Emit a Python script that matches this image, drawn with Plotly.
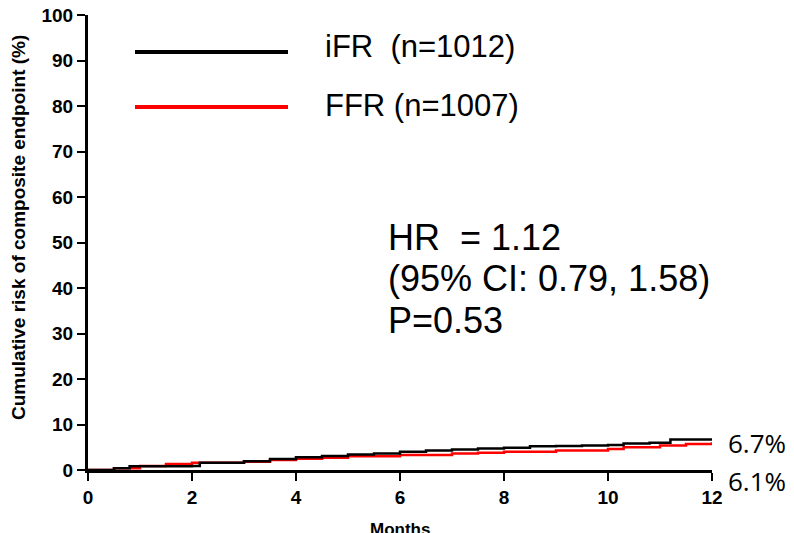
import plotly.graph_objects as go

# Data
ifr_months = [0, 0.5, 0.8, 2.0, 2.15, 3.0, 3.5, 4.0, 4.5, 5.0, 5.5, 6.0, 6.5, 7.0, 7.5, 8.0, 8.5, 9.0, 9.5, 10.0, 10.3, 10.8, 11.2, 12]
ifr_values = [0, 0.4, 0.8, 0.9, 1.6, 1.9, 2.4, 2.8, 3.1, 3.4, 3.6, 4.0, 4.3, 4.5, 4.7, 4.9, 5.2, 5.3, 5.4, 5.5, 5.8, 6.0, 6.7, 6.7]
ffr_months = [0, 0.5, 1.0, 1.5, 2.0, 3.0, 3.5, 4.0, 4.5, 5.0, 6.0, 7.0, 7.5, 8.0, 9.0, 10.0, 10.3, 11.0, 11.5, 12]
ffr_values = [0, 0.4, 0.9, 1.3, 1.6, 1.8, 2.2, 2.5, 2.7, 3.0, 3.3, 3.6, 3.8, 4.0, 4.3, 4.6, 5.0, 5.4, 5.7, 6.1]

x_ticks = [0, 2, 4, 6, 8, 10, 12]
y_ticks = [0, 10, 20, 30, 40, 50, 60, 70, 80, 90, 100]
legend_labels = ["iFR  (n=1012)", "FFR (n=1007)"]
stats_lines = ["HR  = 1.12", "(95% CI: 0.79, 1.58)", "P=0.53"]
end_labels = ["6.7%", "6.1%"]

# plot area in screen pixels: x 88..712, y 15..470 (page has an ~8px body offset)
PX0, PX1, PY0, PY1 = 88, 712, 15, 470
def px(x):
    return (x - PX0) / (PX1 - PX0)
def py(y):
    return (PY1 - y) / (PY1 - PY0)

fig = go.Figure()
fig.add_trace(go.Scatter(x=ffr_months, y=ffr_values, mode="lines", line=dict(color="#ff0000", width=2.5, shape="hv"),
                         showlegend=False, cliponaxis=False))
fig.add_trace(go.Scatter(x=ifr_months, y=ifr_values, mode="lines", line=dict(color="#000000", width=2.5, shape="hv"),
                         showlegend=False, cliponaxis=False))

fig.update_layout(
    width=794, height=533,
    margin=dict(l=80, r=90, t=7, b=71),
    plot_bgcolor="white", paper_bgcolor="white",
    font=dict(family="Liberation Sans, Arial", size=16, color="black"),
)
tick_font = dict(family="Liberation Sans, Arial", size=19, color="black", weight="bold")
fig.update_xaxes(range=[0, 12], tickmode="array", tickvals=x_ticks,
                 ticks="outside", ticklen=8, tickwidth=2, tickcolor="black",
                 showline=True, linewidth=3, linecolor="black", showgrid=False, zeroline=False,
                 tickfont=tick_font, ticklabeloverflow="allow", automargin=False)
fig.update_yaxes(range=[0, 100], tickmode="array", tickvals=y_ticks,
                 ticks="outside", ticklen=8, tickwidth=2, tickcolor="black",
                 showline=True, linewidth=3, linecolor="black", showgrid=False, zeroline=False,
                 tickfont=tick_font, ticklabeloverflow="allow", automargin=False)

# legend lines
fig.add_shape(type="line", xref="paper", yref="paper", x0=px(135), x1=px(288), y0=py(52), y1=py(52),
              line=dict(color="black", width=4))
fig.add_shape(type="line", xref="paper", yref="paper", x0=px(135), x1=px(288), y0=py(107), y1=py(107),
              line=dict(color="#ff0000", width=4))
leg_font = dict(family="Liberation Sans, Arial", size=31, color="black")
fig.add_annotation(x=px(323), y=py(47), xref="paper", yref="paper", text=legend_labels[0], showarrow=False,
                   xanchor="left", yanchor="middle", font=leg_font)
fig.add_annotation(x=px(323), y=py(106), xref="paper", yref="paper", text=legend_labels[1], showarrow=False,
                   xanchor="left", yanchor="middle", font=leg_font)

# stats text
stat_font = dict(family="Liberation Sans, Arial", size=36, color="black")
for t, yp in zip(stats_lines, [237, 278, 320]):
    fig.add_annotation(x=px(386), y=py(yp), xref="paper", yref="paper", text=t,
                       showarrow=False, xanchor="left", yanchor="middle", font=stat_font)

# end labels
end_font = dict(family="Open Sans, Noto Sans", size=26, color="black")
for t, yp in zip(end_labels, [443, 481]):
    fig.add_annotation(x=px(726), y=py(yp), xref="paper", yref="paper", text=t,
                       showarrow=False, xanchor="left", yanchor="middle", font=end_font)

# axis titles
fig.add_annotation(x=px(18), y=py(228), xref="paper", yref="paper",
                   text="Cumulative risk of composite endpoint (%)", textangle=-90, showarrow=False,
                   xanchor="center", yanchor="middle",
                   font=dict(family="Liberation Sans, Arial", size=19, color="black", weight="bold"))
fig.add_annotation(x=px(400), y=py(518), xref="paper", yref="paper",
                   text="Months", showarrow=False, xanchor="center", yanchor="top",
                   font=dict(family="Liberation Sans, Arial", size=17, color="black", weight="bold"))

fig.write_html("out.html")
